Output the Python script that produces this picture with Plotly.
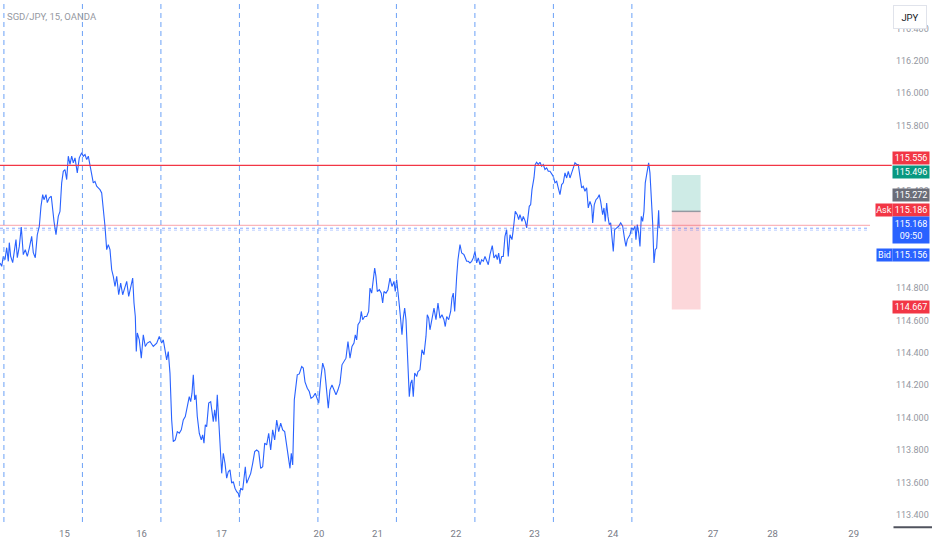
import plotly.graph_objects as go

# SGD/JPY 15m, OANDA - time in hours from the left edge of the chart
hours = [
    0.0, 0.52, 1.01, 1.53, 2.05, 2.54, 2.84, 3.27, 3.88, 4.28, 4.89, 5.29, 5.90, 6.51, 7.12, 7.73,
    8.35, 8.96, 9.69, 10.18, 10.79, 11.40, 12.02, 12.53, 13.05, 13.45, 14.06, 14.46, 15.07, 15.68,
    16.11, 16.51, 17.12, 17.82, 18.34, 18.86, 19.35, 19.87, 20.39, 20.88, 21.40, 21.92, 22.41, 22.93,
    23.63, 24.24, 24.98, 25.47, 25.99, 26.51, 27.00, 27.52, 28.04, 28.52, 29.04, 29.56, 30.05, 30.57,
    31.09, 31.58, 32.10, 32.62, 33.11, 33.63, 34.15, 34.64, 35.16, 35.68, 36.29, 36.90, 37.51, 38.12,
    38.74, 39.35, 39.96, 40.57, 40.97, 41.37, 41.67, 41.98, 42.59, 43.20, 43.81, 44.42, 45.03,
    45.86, 46.87, 47.91, 48.70, 49.44, 49.93, 50.45, 50.96, 51.45, 51.97, 52.49, 52.98, 53.59, 54.21,
    54.82, 55.43, 56.04, 56.65, 57.26, 57.87, 58.30, 58.70, 59.10, 59.53, 59.92, 60.32, 60.93, 61.54,
    61.97, 62.37, 62.77, 63.19, 63.81, 64.42, 64.82, 65.21, 65.64, 66.04, 66.43, 66.86, 67.26, 67.78,
    68.27, 68.79, 69.31, 69.80, 70.32, 70.84, 71.33, 71.85, 72.37, 72.86, 73.16, 73.59, 74.20, 74.60,
    75.00, 75.42, 76.04, 76.65, 77.26, 77.87, 78.48, 79.09, 79.70, 80.32, 80.93, 81.54, 82.15, 82.76,
    83.37, 83.98, 84.60, 85.21, 85.82, 86.43, 87.04, 87.65, 88.14, 88.66, 89.06, 89.49,
    89.98, 90.40, 90.89, 91.50, 92.24, 92.73, 93.25, 93.95, 94.56, 95.08, 95.79, 96.40, 96.82, 97.44,
    98.05, 98.66, 99.27, 99.88, 100.37, 100.89, 101.50, 102.11, 102.73, 103.34, 103.95, 104.56,
    105.17, 105.78, 106.39, 107.01, 107.62, 108.23, 108.63, 109.05, 109.45, 110.06, 110.46, 110.89,
    111.50, 112.11, 112.72, 113.12, 113.64, 114.13, 114.56, 114.95, 115.35, 115.99, 116.57, 117.00,
    117.40, 118.01, 118.62, 119.23, 119.85, 120.46, 120.85, 121.28, 121.68, 122.08, 122.51, 122.90,
    123.30, 123.73, 124.13, 124.52, 124.95, 125.14, 125.56, 125.96, 126.36, 126.79, 127.40, 127.80,
    128.41, 129.02, 129.63, 130.24, 130.64, 131.07, 131.46, 132.08, 132.69, 133.30, 133.91, 134.52,
    135.13, 135.74, 136.14, 136.57, 137.18, 137.79, 138.19, 138.59, 139.02, 139.63, 140.02, 140.64,
    141.16, 141.86, 142.68, 143.17, 143.69, 144.21, 144.70, 145.22, 145.74, 146.23, 146.75, 147.27,
    147.76, 148.28, 148.80, 149.29, 149.81, 150.51, 151.03, 151.64, 152.04, 152.47, 152.87, 153.39,
    153.88, 154.39, 154.91, 155.40, 155.92, 156.53, 156.93, 157.54, 158.15, 158.58, 158.98, 159.59,
    159.99, 160.60, 161.03, 161.43, 161.82, 162.25, 162.65, 163.26, 163.66, 164.08, 164.57, 165.09,
    165.61, 166.10, 166.62, 167.14, 167.63, 168.15, 168.67, 169.16, 169.68, 170.20, 170.69, 171.21,
    171.73, 172.22, 172.74, 173.26, 173.75, 174.27, 174.79, 175.28, 175.80, 176.32, 176.80, 177.32,
    177.84, 178.33, 178.85, 179.37, 179.86, 180.38, 180.90, 181.21, 181.70, 182.22, 182.73, 183.22,
    183.65, 184.26, 184.66, 185.06, 185.48, 185.88, 186.28, 186.71, 187.11, 187.51, 187.93, 188.54,
    189.15, 189.77, 190.38, 190.99, 191.39, 191.78, 192.21, 192.61, 193.13, 193.62, 194.14, 194.44,
    194.84, 195.27, 195.67, 196.07, 196.49, 196.89, 197.29, 197.71, 198.32, 198.72, 199.12, 199.55,
    199.95, 200.35, 200.77, 201.08, 201.38, 201.57,
]
close = [
    114.954, 114.933, 114.994, 114.974, 115.048, 114.964, 115.079, 114.994, 114.956, 115.005, 115.098,
    114.986, 115.056, 115.176, 115.005, 115.036, 114.994, 115.046, 115.118, 115.017, 114.986, 115.128,
    115.180, 115.303, 115.375, 115.344, 115.375, 115.326, 115.355, 115.365, 115.272, 115.210, 115.128,
    115.241, 115.272, 115.448, 115.519, 115.530, 115.468, 115.612, 115.561, 115.612, 115.571, 115.602,
    115.509, 115.602, 115.633, 115.612, 115.622, 115.591, 115.612, 115.561, 115.509, 115.448, 115.457,
    115.427, 115.417, 115.406, 115.386, 115.303, 115.180, 115.036, 115.067, 115.036, 114.912, 114.871,
    114.809, 114.871, 114.758, 114.830, 114.758, 114.799, 114.840, 114.748, 114.809, 114.861, 114.707,
    114.624, 114.408, 114.522, 114.480, 114.367, 114.511, 114.439, 114.460,
    114.470, 114.439, 114.460, 114.501, 114.460, 114.480, 114.408, 114.357, 114.408, 114.275, 113.986,
    113.852, 113.863, 113.914, 113.904, 113.925, 113.986, 114.007, 114.068, 114.130, 114.099, 114.151,
    114.264, 114.110, 114.141, 114.007, 113.904, 113.863, 113.894, 113.843, 113.956, 113.945, 114.090,
    114.099, 114.038, 113.976, 114.048, 113.976, 114.141, 113.966, 113.843, 113.657, 113.781, 113.719,
    113.627, 113.667, 113.678, 113.596, 113.606, 113.565, 113.544, 113.534, 113.509, 113.565, 113.554,
    113.636, 113.698, 113.596, 113.627, 113.657, 113.719, 113.791, 113.801, 113.791, 113.688, 113.698,
    113.843, 113.832, 113.904, 113.801, 113.925, 113.863, 113.986, 113.914, 113.966, 113.925, 113.914,
    113.822, 113.781, 113.688, 113.781, 113.709,
    114.110, 114.192, 114.264, 114.270, 114.315, 114.306, 114.221, 114.182, 114.161, 114.120, 114.130,
    114.151, 114.130, 114.090, 114.233, 114.336, 114.295, 114.172, 114.059, 114.172, 114.202, 114.172,
    114.141, 114.172, 114.213, 114.326, 114.346, 114.367, 114.470, 114.367, 114.439, 114.460, 114.511,
    114.480, 114.573, 114.593, 114.655, 114.604, 114.624, 114.624, 114.655, 114.799, 114.768, 114.871,
    114.923, 114.871, 114.778, 114.789, 114.768, 114.707, 114.778, 114.768, 114.789, 114.861, 114.809,
    114.840, 114.778, 114.851, 114.789, 114.696, 114.604, 114.511, 114.614, 114.676, 114.604, 114.419,
    114.295, 114.130, 114.213, 114.233, 114.130, 114.275, 114.254, 114.285, 114.295, 114.419, 114.388,
    114.501, 114.635, 114.614, 114.542, 114.614, 114.676, 114.604, 114.707, 114.614, 114.635, 114.604,
    114.562, 114.624, 114.604, 114.655, 114.738, 114.768, 114.655, 114.871, 114.974, 115.067,
    115.015, 115.005, 114.964, 114.964, 114.954, 114.964, 114.985, 115.025, 114.954, 114.985, 114.943,
    114.974, 114.964, 114.994, 114.964, 114.943, 115.005, 115.061, 114.985, 115.005, 114.974, 115.015,
    114.949, 114.994, 114.994, 115.118, 115.159, 114.994, 115.128, 115.098, 115.159, 115.272, 115.252,
    115.221, 115.252, 115.210, 115.241, 115.210, 115.170, 115.262, 115.303, 115.314, 115.406, 115.478,
    115.561, 115.575, 115.561, 115.575, 115.550, 115.561, 115.530, 115.540, 115.519, 115.519, 115.499,
    115.488, 115.448, 115.457, 115.417, 115.375, 115.437, 115.448, 115.509, 115.478, 115.519, 115.478,
    115.509, 115.540, 115.571, 115.561, 115.561, 115.488, 115.417, 115.427, 115.396, 115.417, 115.293,
    115.334, 115.303, 115.201, 115.314, 115.344, 115.355, 115.375, 115.334, 115.252, 115.293, 115.210,
    115.324, 115.241, 115.190, 115.201, 115.098, 115.025, 115.159, 115.170, 115.180, 115.201, 115.180,
    115.098, 115.056, 115.098, 115.118, 115.128, 115.170, 115.159, 115.180, 115.098, 115.190, 115.139,
    115.056, 115.241, 115.210, 115.272, 115.448, 115.509, 115.571, 115.509, 115.365, 115.201, 114.954,
    115.036, 115.046, 115.159, 115.278, 115.168,
]

session_breaks = [1.2, 25.2, 49.2, 73.2, 97.2, 121.2, 145.2, 169.2, 193.2]
day_ticks = [19.7, 43.3, 67.7, 97.5, 115.4, 139.4, 163.4, 187.4, 218.0, 236.2, 261.0]
day_labels = ['15', '16', '17', '20', '21', '22', '23', '24', '27', '28', '29']
price_ticks = [113.4, 113.6, 113.8, 114.0, 114.2, 114.4, 114.6, 114.8, 115.0, 115.2,
               115.4, 115.6, 115.8, 116.0, 116.2, 116.4]

resistance = 115.556
ask, last, bid = 115.186, 115.168, 115.156
last_time = '09:50'
# long position tool
pos_start, pos_end = 205.4, 214.2
pos_entry, pos_target, pos_stop = 115.272, 115.496, 114.667

FONT = 'Roboto, sans-serif'
RED = '#f23645'
TEAL = '#089981'
BLUE = '#2962ff'
GREY = '#9598a1'

fig = go.Figure()
fig.add_trace(go.Scatter(x=hours, y=close, mode='lines',
                         line=dict(color=BLUE, width=1.1), hoverinfo='skip'))

shapes = []
for t in session_breaks:
    shapes.append(dict(type='line', xref='x', yref='paper', x0=t, x1=t, y0=0, y1=1,
                       line=dict(color='#6ba1f7', width=1, dash='5px,4px')))
# position tool
shapes.append(dict(type='rect', xref='x', yref='y', x0=pos_start, x1=pos_end,
                   y0=pos_entry, y1=pos_target, fillcolor='rgba(8,153,129,0.2)', line_width=0))
shapes.append(dict(type='rect', xref='x', yref='y', x0=pos_start, x1=pos_end,
                   y0=pos_stop, y1=pos_entry, fillcolor='rgba(242,54,69,0.2)', line_width=0))
shapes.append(dict(type='line', xref='x', yref='y', x0=pos_start, x1=pos_end,
                   y0=pos_entry, y1=pos_entry, line=dict(color='#9598a1', width=1.5)))
# horizontal levels
shapes.append(dict(type='line', xref='paper', yref='y', x0=0, x1=1.025, y0=resistance, y1=resistance,
                   line=dict(color=RED, width=1.2)))
shapes.append(dict(type='line', xref='paper', yref='y', x0=0, x1=1.0, y0=ask, y1=ask,
                   line=dict(color='rgba(242,54,69,0.45)', width=1)))
shapes.append(dict(type='line', xref='paper', yref='y', x0=0, x1=1.0, y0=last, y1=last,
                   line=dict(color='rgba(41,98,255,0.55)', width=1, dash='dot')))
shapes.append(dict(type='line', xref='paper', yref='y', x0=0, x1=1.0, y0=bid, y1=bid,
                   line=dict(color='rgba(41,98,255,0.3)', width=1, dash='dot')))
shapes.append(dict(type='line', xref='paper', yref='paper', x0=1.027, x1=1.075, y0=-0.01, y1=-0.01,
                   line=dict(color='#50535e', width=2)))


def tag(price, text, color, yshift, xshift=22, width=36, height=12):
    return dict(xref='paper', yref='y', x=1, y=price, xanchor='left', yanchor='middle',
                xshift=xshift, yshift=yshift, text=text, showarrow=False,
                bgcolor=color, width=width, height=height, borderpad=0,
                font=dict(family=FONT, size=9, color='white'))


annotations = [
    dict(xref='paper', yref='paper', x=0, y=1, xanchor='left', yanchor='middle', xshift=5, yshift=-16,
         text='SGD/JPY, 15, OANDA', showarrow=False, font=dict(family=FONT, size=9.5, color=GREY)),
    dict(xref='paper', yref='paper', x=1, y=1, xanchor='left', yanchor='top', xshift=23, yshift=-5,
         text='JPY', showarrow=False, bgcolor='white', bordercolor='#e0e3eb', borderwidth=1,
         width=30, height=20, font=dict(family=FONT, size=9.5, color='#131722')),
    tag(resistance, f'{resistance:.3f}', RED, 7),
    tag(pos_target, f'{pos_target:.3f}', TEAL, 3),
    tag(pos_entry, f'{pos_entry:.3f}', '#6a6d78', 16.5),
    tag(ask, f'{ask:.3f}', RED, 15.5),
    tag(ask, 'Ask', RED, 15.5, xshift=5, width=16),
    tag(last, f'{last:.3f}<br>{last_time}', BLUE, -1.5, height=26),
    tag(bid, f'{bid:.3f}', BLUE, -24.5),
    tag(bid, 'Bid', BLUE, -24.5, xshift=6, width=15),
    tag(pos_stop, f'{pos_stop:.3f}', RED, 2.5),
]

fig.update_layout(
    width=932, height=550,
    margin=dict(l=0, r=62, t=0, b=28),
    paper_bgcolor='white', plot_bgcolor='white',
    showlegend=False,
    font=dict(family=FONT, size=9, color=GREY),
    shapes=shapes, annotations=annotations,
    xaxis=dict(range=[0, 266], showgrid=False, zeroline=False, showline=False,
               tickvals=day_ticks, ticktext=day_labels, ticks='', ticklabelstandoff=4,
               tickfont=dict(family=FONT, size=9.5, color='#787b86')),
    yaxis=dict(range=[113.357, 116.575], side='right', showgrid=False, zeroline=False,
               showline=False, tickvals=price_ticks, tickformat='.3f', ticks='',
               ticklabelstandoff=25, tickfont=dict(family=FONT, size=9, color=GREY)),
)

# the page body has an 8px default margin; drop it so the chart sits flush
fig.write_html('out.html', config={'displayModeBar': False},
               post_script="document.body.style.margin='0';")
